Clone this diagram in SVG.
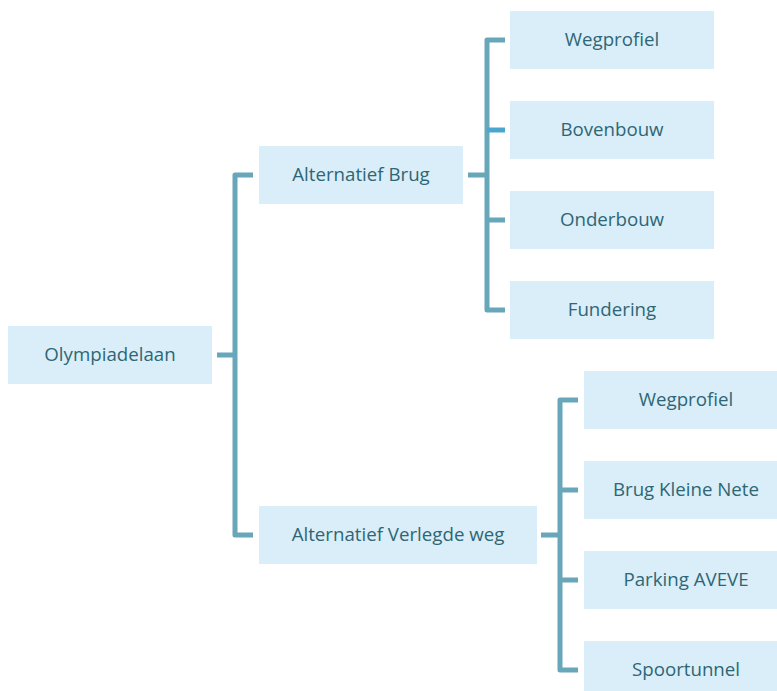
<svg xmlns="http://www.w3.org/2000/svg" width="777" height="691" viewBox="0 0 777 691">
<style>
.box{fill:#daeef9;}
.t{font-family:"Open Sans","Noto Sans",sans-serif;font-size:18.7px;fill:#2e6675;text-anchor:middle;}
.c{stroke:#68a6ba;stroke-width:5;fill:none;stroke-linejoin:round;}
</style>
<rect width="777" height="691" fill="#ffffff"/>
<g id="connectors">
<path class="c" d="M217 355H235M253 175H235V535H253"/>
<path class="c" d="M468 175H487M505 40H487V310H505M487 220H505"/>
<path class="c" d="M487 130H505" style="stroke:#4ba6cf"/>
<path class="c" d="M541 535H560M578 400H560V670H578M560 490H578M560 580H578"/>
</g>
<g id="n-root"><rect class="box" x="8" y="326" width="204" height="58"/><text class="t" x="110" y="361">Olympiadelaan</text></g>
<g id="n-brug"><rect class="box" x="259" y="146" width="204" height="58"/><text class="t" x="361" y="181">Alternatief Brug</text></g>
<g id="n-verlegd"><rect class="box" x="259" y="506" width="278" height="58"/><text class="t" x="398" y="541">Alternatief Verlegde weg</text></g>
<g id="n-b1"><rect class="box" x="510" y="11" width="204" height="58"/><text class="t" x="612" y="46">Wegprofiel</text></g>
<g id="n-b2"><rect class="box" x="510" y="101" width="204" height="58"/><text class="t" x="612" y="136">Bovenbouw</text></g>
<g id="n-b3"><rect class="box" x="510" y="191" width="204" height="58"/><text class="t" x="612" y="226">Onderbouw</text></g>
<g id="n-b4"><rect class="box" x="510" y="281" width="204" height="58"/><text class="t" x="612" y="316">Fundering</text></g>
<g id="n-v1"><rect class="box" x="584" y="371" width="204" height="58"/><text class="t" x="686" y="406">Wegprofiel</text></g>
<g id="n-v2"><rect class="box" x="584" y="461" width="204" height="58"/><text class="t" x="686" y="496">Brug Kleine Nete</text></g>
<g id="n-v3"><rect class="box" x="584" y="551" width="204" height="58"/><text class="t" x="686" y="586">Parking AVEVE</text></g>
<g id="n-v4"><rect class="box" x="584" y="641" width="204" height="58"/><text class="t" x="686" y="676">Spoortunnel</text></g>
</svg>
